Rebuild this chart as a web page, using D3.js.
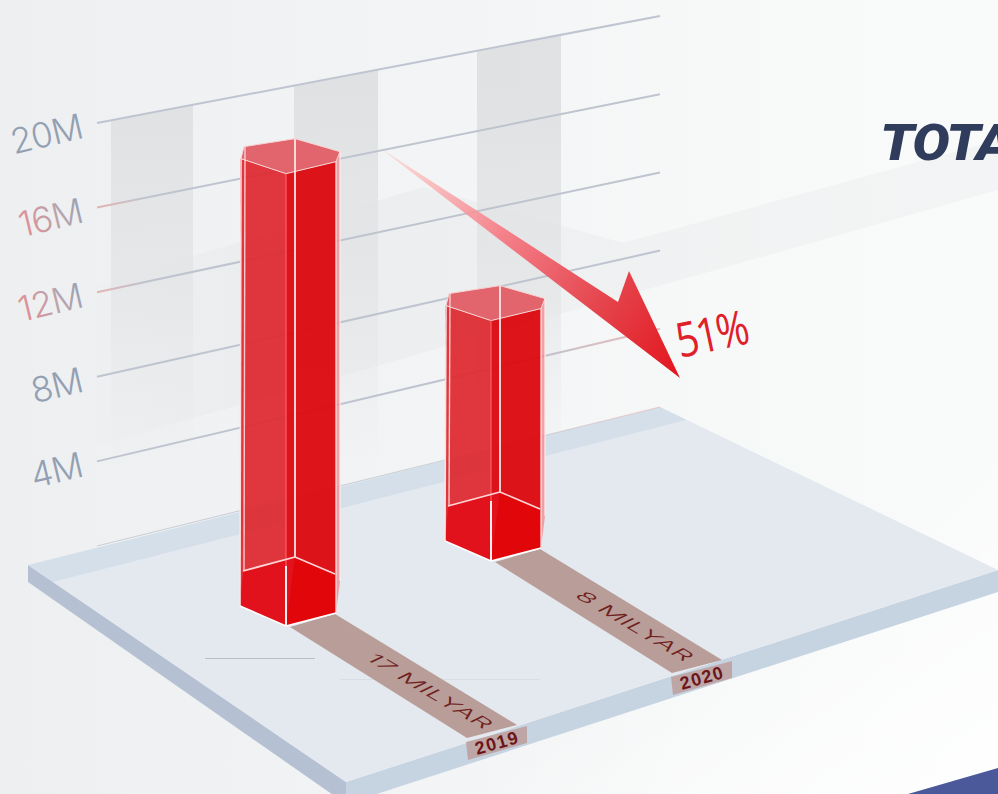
<!DOCTYPE html>
<html>
<head>
<meta charset="utf-8">
<script src="https://cdn.jsdelivr.net/npm/d3@7/dist/d3.min.js"></script>
<style>
  html, body { margin: 0; padding: 0; background: #f6f7f8; overflow: hidden; }
  svg { display: block; }
</style>
</head>
<body>
<svg id="chart" width="998" height="794"></svg>
<script>
// Values
const years = ["2019", "2020"];
const values = [17, 8];
const valueLabels = ["17 MILYAR", "8 MILYAR"];
const tickValues = [4, 8, 12, 16, 20];
const tickLabels = ["4M", "8M", "12M", "16M", "20M"];
const changeLabel = "51%";
const brandLabel = "TOTAL";

const W = 998, H = 794;
const svg = d3.select("#chart");
const defs = svg.append("defs");

// Scales: a grid line runs from wallLeftY to wallRightY across the back wall
const wallX = [97, 660];
const wallLeftY = d3.scaleLinear().domain([0, 20]).range([546, 123]);
const wallRightY = d3.scaleLinear().domain([0, 20]).range([407, 16]);
const gridY = (v, x) => d3.scaleLinear().domain(wallX).range([wallLeftY(v), wallRightY(v)])(x);
const barHeight = d3.scaleLinear().domain([0, 20]).range([52, 523]);
const baseX = d3.scalePoint().domain(years).range([286, 491]);
const baseY = d3.scalePoint().domain(years).range([626, 561]);
const poly = d3.line().x(d => d[0]).y(d => d[1]);
const closed = pts => poly(pts) + "Z";

function linearGradient(id, attrs, stops) {
  const g = defs.append("linearGradient").attr("id", id);
  Object.entries(attrs).forEach(([k, v]) => g.attr(k, v));
  stops.forEach(s => g.append("stop").attr("offset", s[0]).attr("stop-color", s[1]).attr("stop-opacity", s[2] === undefined ? 1 : s[2]));
}

const GRID = "#bcc2cd";
linearGradient("bg", { x1: 0, x2: 1, y1: 0, y2: 0 }, [[0, "#edeff1"], [0.45, "#f3f4f5"], [0.72, "#f7f8f8"], [1, "#f9fafa"]]);
linearGradient("glow", { gradientUnits: "userSpaceOnUse", x1: 800, y1: 560, x2: 960, y2: 790 }, [[0, "#ffffff", 0], [1, "#ffffff", 0.85]]);
linearGradient("wall", { gradientUnits: "userSpaceOnUse", x1: 70, x2: 260, y1: 0, y2: 0 }, [[0, "#7f8790", 0], [1, "#7f8790", 0.05]]);
linearGradient("column", { gradientUnits: "userSpaceOnUse", x1: 0, x2: 0, y1: 90, y2: 470 }, [[0, "#dfe0e2", 0.95], [0.5, "#e2e3e5", 0.7], [1, "#e6e8ea", 0]]);
linearGradient("arrow", { gradientUnits: "userSpaceOnUse", x1: 380, y1: 148, x2: 680, y2: 378 }, [[0, "#fbd0c8", 0.5], [0.14, "#fbb4b4", 0.75], [0.4, "#f4808a"], [0.7, "#e5474f"], [1, "#e3141c"]]);
linearGradient("tickTint", { x1: 0, x2: 1, y1: 0.2, y2: 0 }, [[0, "#df8f95"], [0.55, "#b9a4ad"], [1, "#93a1b5"]]);
linearGradient("gridTint", { gradientUnits: "userSpaceOnUse", x1: 97, x2: 145, y1: 0, y2: 0 }, [[0, "#e4b0b0"], [1, GRID]]);
linearGradient("gridTintEnd", { gradientUnits: "userSpaceOnUse", x1: 530, x2: 660, y1: 0, y2: 0 }, [[0, GRID], [1, "#eab8b8"]]);

// Backdrop
svg.append("rect").attr("width", W).attr("height", H).attr("fill", "url(#bg)");
svg.append("rect").attr("width", W).attr("height", H).attr("fill", "url(#glow)");

// Receding wall band
svg.append("path")
  .attr("d", closed([[70, 293], [423, 187], [623, 243], [998, 140], [998, 190], [70, 453]]))
  .attr("fill", "url(#wall)");

// Vertical columns on the wall
const columnBands = [[111, 193], [294, 378], [477, 561]];
svg.append("g").selectAll("path").data(columnBands).join("path")
  .attr("d", d => closed([[d[0], gridY(20, d[0]) + 1], [d[1], gridY(20, d[1]) + 1], [d[1], 470], [d[0], 470]]))
  .attr("fill", "url(#column)");

// Platform
svg.append("path").attr("d", closed([[28, 565], [346, 782], [346, 804], [28, 582]])).attr("fill", "#b5c1d3");
svg.append("path").attr("d", closed([[346, 782], [998, 570], [998, 592], [346, 804]])).attr("fill", "#c6d4e2");
svg.append("path").attr("d", closed([[53, 582], [687, 420], [998, 570], [346, 782]])).attr("fill", "#e4e8ef");
svg.append("path").attr("d", closed([[28, 565], [660, 407], [687, 420], [53, 582]])).attr("fill", "#d5dfe9");
svg.append("line").attr("x1", 205).attr("x2", 315).attr("y1", 658.5).attr("y2", 658.5).attr("stroke", "#b9bfc9").attr("stroke-width", 1);
svg.append("line").attr("x1", 340).attr("x2", 540).attr("y1", 679.5).attr("y2", 679.5).attr("stroke", "#d8dde4").attr("stroke-width", 1);

// Grid lines
svg.append("g").selectAll("line").data([0].concat(tickValues)).join("line")
  .attr("x1", wallX[0]).attr("x2", wallX[1])
  .attr("y1", d => wallLeftY(d)).attr("y2", d => wallRightY(d))
  .attr("stroke", d => (d === 12 || d === 16) ? "url(#gridTint)" : (d <= 4 ? "url(#gridTintEnd)" : GRID))
  .attr("stroke-width", d => d === 0 ? 1.2 : 2)
  .attr("stroke-opacity", d => d === 0 ? 0.7 : 0.95);

// Axis labels
svg.append("g").selectAll("text").data(tickValues).join("text")
  .attr("transform", d => `translate(85,${wallLeftY(d) + 14.5}) rotate(-13.5)`)
  .attr("text-anchor", "end")
  .attr("font-family", "Inter, sans-serif")
  .attr("font-weight", 300)
  .attr("font-size", 35)
  .attr("letter-spacing", -0.5)
  .attr("fill", d => (d === 12 || d === 16) ? "url(#tickTint)" : "#93a0b3")
  .text((d, i) => tickLabels[i]);

// Floor strips with value and year tags
const strips = svg.append("g").selectAll("g").data(years).join("g")
  .attr("transform", d => `translate(${baseX(d)},${baseY(d)})`);
strips.append("path").attr("d", closed([[4, 1], [49, -12], [231, 99], [181, 112]])).attr("fill", "#b99d98");
strips.append("path").attr("d", closed([[180, 116], [241, 100], [241, 117], [182, 134]])).attr("fill", "#bfa6a6");
strips.append("text")
  .attr("transform", "matrix(1.55,0.92,-1.05,0.5,144,65)")
  .attr("text-anchor", "middle").attr("dominant-baseline", "central")
  .attr("font-family", "Inter, sans-serif").attr("font-size", 16).attr("font-weight", 300)
  .attr("fill", "#70211d")
  .text((d, i) => valueLabels[i]);
strips.append("text")
  .attr("transform", "translate(211,117) rotate(-16)")
  .attr("text-anchor", "middle").attr("dominant-baseline", "central")
  .attr("font-family", "'Liberation Sans', sans-serif").attr("font-weight", 700).attr("font-size", 18).attr("letter-spacing", 1.2)
  .attr("fill", "#6c1518")
  .text(d => d);

// Prism bars, one group per year
const barG = svg.append("g").selectAll("g").data(years).join("g")
  .attr("transform", d => `translate(${baseX(d)},${baseY(d)})`);

const capOffsets = [[-45, -15], [-42, -27], [9, -35], [54, -22], [50, -12], [0, 0]];
const atTop = (h, p) => [p[0], p[1] - h];
const heightOf = i => barHeight(values[i]);

// Shaft faces
barG.append("path")
  .attr("d", (d, i) => closed([atTop(heightOf(i), [0, 0]), atTop(heightOf(i), [-46, -15]), [-46, -20], [0, 0]]))
  .attr("fill", "#dd2a31").attr("fill-opacity", 0.94);
barG.append("path")
  .attr("d", (d, i) => closed([atTop(heightOf(i), [0, 0]), atTop(heightOf(i), [50, -12]), [50, -13], [0, 0]]))
  .attr("fill", "#dc0a10").attr("fill-opacity", 0.96);
barG.append("path")
  .attr("d", (d, i) => closed([atTop(heightOf(i), [50, -12]), atTop(heightOf(i), [54, -22]), [54, -45], [50, -13]]))
  .attr("fill", "#ee8a8e").attr("fill-opacity", 0.75);

// Cap
barG.append("path")
  .attr("d", (d, i) => closed(capOffsets.map(p => atTop(heightOf(i), p))))
  .attr("fill", "#e2646c")
  .attr("stroke", "#f7d4d4").attr("stroke-width", 1);

// Footing
barG.append("path").attr("d", closed([[-46, -20], [-43, -55], [9, -69], [0, 0]])).attr("fill", "#e1121b");
barG.append("path").attr("d", closed([[9, -69], [49, -52], [50, -13], [0, 0]])).attr("fill", "#e0060a");

// Highlight edges
function edge(sel, a, b, stroke, width, opacity) {
  sel.append("line")
    .attr("x1", (d, i) => a(i)[0]).attr("y1", (d, i) => a(i)[1])
    .attr("x2", (d, i) => b(i)[0]).attr("y2", (d, i) => b(i)[1])
    .attr("stroke", stroke).attr("stroke-width", width).attr("stroke-opacity", opacity);
}
const capPoint = p => i => atTop(heightOf(i), p);
const fixed = p => () => p;
edge(barG, capPoint([-45, -15]), fixed([-46, -20]), "#fbe6e6", 1.6, 0.95);
edge(barG, capPoint([-41, -27]), fixed([-42, -55]), "#ffd8d8", 1.4, 0.9);
edge(barG, capPoint([9, -35]), fixed([9, -69]), "#ffe6e6", 2, 0.9);
edge(barG, capPoint([0, 0]), fixed([0, 0]), "#ff5a60", 1.4, 0.9);
edge(barG, fixed([0, -60]), fixed([0, 0]), "#ffeeee", 2, 1);
edge(barG, capPoint([50, -12]), fixed([50, -13]), "#ffdcdc", 1.4, 0.9);
edge(barG, capPoint([54, -22]), fixed([54, -45]), "#ffe8e8", 1.4, 0.9);
edge(barG, fixed([-43, -55]), fixed([9, -69]), "#ffd6d6", 1.8, 1);
edge(barG, fixed([9, -69]), fixed([49, -52]), "#ffd6d6", 1.6, 1);
edge(barG, fixed([-46, -20]), fixed([0, 0]), "#ffffff", 1.6, 1);
edge(barG, fixed([0, 0]), fixed([50, -13]), "#ffffff", 1.6, 1);

// Decline arrow
svg.append("path")
  .attr("d", closed([[380, 148], [618, 302], [629, 271], [680, 378]]))
  .attr("fill", "url(#arrow)");

svg.append("text")
  .attr("transform", "translate(680,358) rotate(-12) scale(0.82,1)")
  .attr("font-family", "'Open Sans', sans-serif")
  .attr("font-size", 48).attr("letter-spacing", -2.5)
  .attr("fill", "#df2029")
  .text(changeLabel);

// Brand word, running off the right edge
svg.append("text")
  .attr("transform", "translate(880,160) scale(1.14,1)")
  .attr("font-family", "Roboto, sans-serif")
  .attr("font-style", "italic").attr("font-weight", 900)
  .attr("font-size", 49).attr("letter-spacing", -1)
  .attr("fill", "#303c5b")
  .text(brandLabel);

// Corner of the neighbouring panel
svg.append("path").attr("d", closed([[908, 794], [998, 768], [998, 794]])).attr("fill", "#4b5899");
</script>
</body>
</html>
